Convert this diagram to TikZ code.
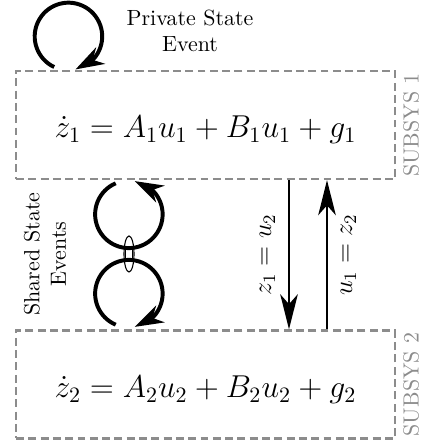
\documentclass[tikz,border=0pt]{standalone}
\usepackage{amsmath}
\usepackage{tikz}
\usetikzlibrary{arrows.meta,bending}

\begin{document}
\begin{tikzpicture}[
    subsys/.style={draw=black!45, line width=1pt, dash pattern=on 3.6pt off 2pt,
      minimum width=6.064cm, minimum height=1.728cm, inner sep=0pt, font=\Large,
      text height=14.8pt, text depth=3pt},
    subsyslabel/.style={text=black!45, rotate=90, anchor=north, inner sep=3pt},
    loopline/.style={line width=1.8pt, -{Stealth[length=13pt, width=8.5pt, inset=4pt]}},
    coupling/.style={line width=1pt, -{Stealth[length=16pt, width=8pt, inset=4.5pt]}},
    couplinglabel/.style={midway, rotate=90, inner sep=5.8pt, font=\large}
  ]
  \useasboundingbox (0,0) rectangle (6.72,7.056);
  \node[subsys] (s1) at (3.288, 5.056) {$\dot{z}_1 = A_1u_1 + B_1u_1 + g_1$};
  \node[subsys] (s2) at (3.288, 0.904) {$\dot{z}_2 = A_2u_2 + B_2u_2 + g_2$};
  \node[subsyslabel] (l1) at (s1.east) {SUBSYS 1};
  \node[subsyslabel] (l2) at (s2.east) {SUBSYS 2};
  \node[align=center] (priv) at (3.04, 6.56) {Private State\\Event};
  \node[align=center, rotate=90] (shared) at (0.72, 2.992) {Shared State\\Events};
  \draw[loopline] ([xshift=-2.421cm, yshift=0.046cm]s1.north) arc[start angle=245, end angle=-78, radius=0.54cm];
  \draw[loopline] ([xshift=-1.437cm, yshift=-0.051cm]s1.south) arc[start angle=113, end angle=440, radius=0.54cm];
  \draw[loopline] ([xshift=-1.437cm, yshift=0.075cm]s2.north) arc[start angle=247, end angle=-80, radius=0.54cm];
  % link between the shared loops
  \draw[line width=0.5pt] (2.064,2.992) ellipse (0.08 and 0.288);
  \draw[line width=0.5pt] (2.011,3.088) -- (2.011,2.88) (2.117,3.088) -- (2.117,2.88);
  \draw[coupling] ([xshift=1.336cm]s1.south) -- node[couplinglabel, anchor=south] (c12) {$z_1 = u_2$} ([xshift=1.336cm]s2.north);
  \draw[coupling] ([xshift=1.944cm]s2.north) -- node[couplinglabel, anchor=north] (c21) {$u_1 = z_2$} ([xshift=1.944cm]s1.south);
\end{tikzpicture}
\end{document}
